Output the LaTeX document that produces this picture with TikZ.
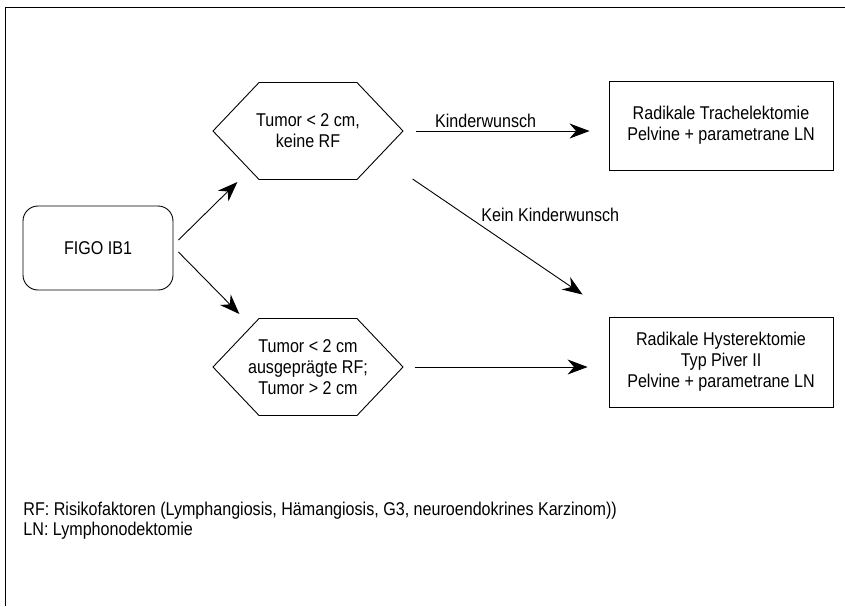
\documentclass[tikz,border=0pt]{standalone}
\usepackage{fontspec}
\setmainfont{Liberation Sans}[FakeStretch=0.87]
\usetikzlibrary{arrows.meta,shapes.symbols}

\tikzset{
  hex/.style={draw, signal, signal to=west and east, signal pointer angle=93,
    minimum width=190pt, minimum height=97pt, inner xsep=-22pt, inner ysep=0pt, align=center},
  box/.style={draw, minimum width=224pt, minimum height=89pt, align=center},
  arr/.style={-{Stealth[length=20pt,width=15pt]}},
}

\begin{document}
\begin{tikzpicture}[x=1pt,y=-1pt,line width=0.9pt,font=\fontsize{18.5}{21}\selectfont]
  \useasboundingbox (0,0) rectangle (845,606);
  \draw (5,606) -- (5,7) -- (845,7);

  \node[draw, rounded corners=15pt, minimum width=150pt, minimum height=84pt] (figo) at (98,248) {FIGO IB1};
  \node[hex] (hexA) at (308,131) {Tumor < 2 cm,\\keine RF};
  \node[hex] (hexB) at (308,367) {Tumor < 2 cm\\ausgeprägte RF;\\Tumor > 2 cm};
  \node[box] (boxA) at (721,125.5) {Radikale Trachelektomie\\Pelvine + parametrane LN};
  \node[box, minimum height=90pt] (boxB) at (721,362) {Radikale Hysterektomie\\Typ Piver II\\Pelvine + parametrane LN};

  % figo -> tumor
  \draw[arr] ([xshift=5pt,yshift=8pt]figo.east) -- ([xshift=25pt,yshift=-51pt]hexA.west);
  \draw[arr] ([xshift=5pt,yshift=-4pt]figo.east) -- ([xshift=27pt,yshift=53pt]hexB.west);

  % tumor -> op
  \draw[arr, shorten <=12pt, shorten >=19pt] (hexA.east) -- node[pos=0.4, above, inner sep=3pt] {Kinderwunsch} (hexA.east -| boxA.west);
  \draw[arr] ([xshift=9pt,yshift=-48pt]hexA.east) -- node[pos=0.39, anchor=south west, inner sep=2pt] {Kein Kinderwunsch} ([xshift=-26pt,yshift=22pt]boxB.north west);
  \draw[arr, shorten <=11pt, shorten >=21pt] (hexB.east) -- (hexB.east -| boxB.west);

  \node[anchor=north west, align=left, inner sep=0pt, font=\fontsize{18.5}{20}\selectfont] (legend) at (23,502)
    {RF: Risikofaktoren (Lymphangiosis, Hämangiosis, G3, neuroendokrines Karzinom))\\LN: Lymphonodektomie};
\end{tikzpicture}
\end{document}
